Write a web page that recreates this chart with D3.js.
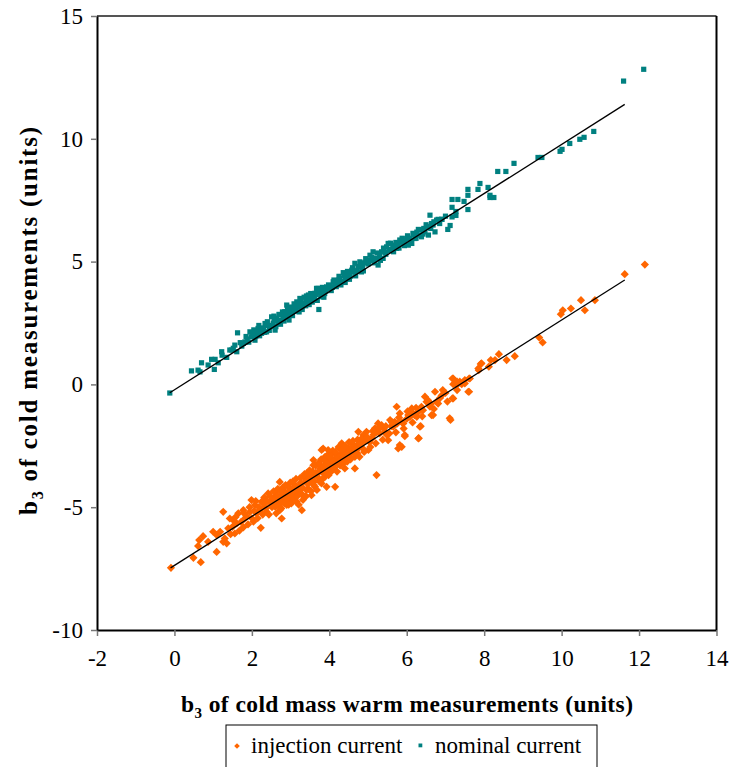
<!DOCTYPE html>
<html>
<head>
<meta charset="utf-8">
<script src="https://cdn.jsdelivr.net/npm/d3@7"></script>
<style>
  html, body { margin: 0; padding: 0; background: #fff; }
  svg { display: block; }
  text { font-family: "Liberation Serif", "Times New Roman", serif; }
</style>
</head>
<body>
<div id="chart"></div>
<script>
// ---------- data ----------
const xTicks = [-2, 0, 2, 4, 6, 8, 10, 12, 14];
const yTicks = [-10, -5, 0, 5, 10, 15];
const seriesNames = ["injection current", "nominal current"];

const injectionCurrent = [
  [-0.09,-7.47],[0.49,-7.06],[0.68,-7.24],[0.61,-6.58],[0.64,-6.34],[0.74,-6.18],[0.87,-6.41],[1.00,-6.00],
  [1.09,-6.82],[1.09,-6.13],[1.18,-6.00],[1.26,-6.41],[1.30,-6.27],[1.35,-6.47],[1.26,-5.19],[1.39,-5.86],
  [1.43,-5.46],[1.52,-5.53],[1.56,-6.07],[1.61,-5.66],[1.65,-5.25],[1.78,-5.12],[1.78,-5.82],[1.82,-5.46],
  [1.86,-5.36],[1.95,-5.19],[1.99,-4.71],[2.04,-5.59],[2.08,-4.91],[2.12,-5.25],[2.21,-5.12],[2.23,-5.84],
  [2.25,-4.78],[2.34,-4.98],[2.38,-5.19],[2.42,-4.44],[2.51,-4.71],[2.60,-4.98],[2.64,-4.51],[2.68,-4.85],
  [2.72,-3.97],[2.72,-5.12],[2.77,-5.46],[2.81,-4.65],[2.85,-4.37],[2.90,-4.91],[2.94,-4.17],[2.98,-4.71],
  [3.03,-4.51],[3.07,-4.03],[3.11,-4.30],[3.16,-4.78],[3.20,-4.44],[3.24,-4.10],[3.29,-5.12],[3.33,-3.76],
  [3.35,-4.58],[3.41,-4.30],[3.50,-3.97],[3.54,-4.51],[3.59,-3.29],[3.63,-4.17],[3.67,-3.69],[3.76,-3.42],
  [3.80,-4.03],[3.84,-2.61],[3.89,-3.76],[3.93,-4.17],[3.97,-3.09],[4.02,-3.49],[4.06,-2.81],[4.10,-3.29],
  [2.30,-4.85],[2.46,-4.80],[2.55,-4.90],[2.58,-4.62],[2.62,-4.72],[2.66,-4.55],[2.70,-4.68],[2.75,-4.80],
  [2.78,-4.50],[2.83,-4.45],[2.86,-4.60],[2.88,-4.75],[2.92,-4.40],[2.96,-4.55],[3.00,-4.35],[3.02,-4.62],
  [3.05,-4.25],[3.09,-4.45],[3.13,-4.15],[3.15,-4.35],[3.18,-4.20],[3.22,-4.30],[3.26,-4.00],[3.31,-4.20],
  [3.38,-3.95],[3.44,-4.05],[3.47,-3.80],[3.52,-3.88],[3.56,-3.70],[3.61,-3.95],[3.65,-3.60],[3.70,-3.78],
  [3.74,-3.55],[3.78,-3.30],[3.82,-3.58],[3.86,-3.40],[3.91,-3.25],[3.95,-3.50],[4.00,-3.20],[4.04,-3.35],
  [4.08,-3.05],[4.13,-3.18],[4.17,-3.00],[4.22,-3.25],[4.25,-2.90],[4.30,-3.10],[4.34,-2.80],[4.38,-2.95],
  [4.43,-2.70],[4.48,-2.95],[4.50,-2.60],[4.56,-2.80],[4.60,-2.55],[4.64,-2.75],[4.70,-2.50],[4.72,-2.80],
  [4.82,-2.45],[4.86,-2.60],[4.92,-2.30],[5.04,-2.35],[5.10,-2.20],[5.14,-2.05],[5.30,-2.00],[5.40,-1.80],
  [5.48,-2.05],[5.60,-1.70],[5.75,-1.60],[5.88,-1.55],[6.00,-1.40],[6.20,-1.25],[6.42,-1.05],[6.62,-0.80],
  [6.86,-0.55],[7.00,-0.35],
  [3.59,-3.08],[3.67,-3.62],[3.80,-2.67],[3.89,-2.95],[3.93,-3.35],[3.97,-2.67],[4.06,-3.08],[4.15,-4.17],
  [4.19,-2.88],[4.27,-2.61],[4.32,-2.40],[4.36,-3.08],[4.40,-3.42],[4.45,-2.81],[4.53,-2.74],[4.58,-2.40],
  [4.66,-2.95],[4.66,-3.42],[4.75,-2.61],[4.79,-2.34],[4.75,-1.93],[4.88,-2.06],[4.96,-1.93],[5.01,-2.67],
  [5.18,-1.79],[5.22,-1.93],[5.26,-1.59],[5.22,-3.69],[5.35,-1.66],[5.44,-1.93],[5.52,-2.27],[5.57,-1.45],
  [5.65,-1.72],[5.69,-1.52],[5.74,-0.91],[5.78,-2.61],[5.82,-2.47],[5.82,-1.18],[5.91,-1.59],[5.95,-2.06],
  [6.04,-1.25],[6.13,-1.12],[6.26,-1.32],[6.30,-2.20],[6.34,-1.72],[6.38,-0.91],[6.47,-0.50],[6.51,-0.71],
  [6.60,-0.91],[6.68,-1.25],[6.73,-0.30],[6.77,-0.71],[7.11,-1.38],[7.20,0.24],[7.20,-0.57],[7.29,-0.03],
  [7.37,0.11],[7.50,0.18],[7.59,-0.30],[7.63,0.24],[7.85,0.65],[7.93,0.86],
  [5.87,-2.54],[5.95,-2.11],[6.31,-2.19],[6.36,-1.70],[6.08,-1.32],[6.13,-0.98],[6.30,-1.12],[6.56,-0.71],
  [6.64,-1.25],[6.81,-0.78],[6.93,-0.23],[7.13,-1.45],[7.18,0.24],[7.18,-0.57],[7.20,0.01],[7.30,0.11],
  [7.30,-0.23],[7.42,0.01],[7.50,0.04],[7.61,0.24],[7.61,-0.30],[7.86,0.58],[7.91,0.83],[8.12,0.72],
  [8.17,0.99],[8.28,0.99],[8.38,1.23],[8.58,0.99],[8.79,1.15],[9.42,1.91],[9.51,1.71],[9.98,2.86],
  [10.03,3.02],[10.24,3.09],[10.50,3.43],[10.60,3.02],[10.86,3.43],[11.63,4.49],[12.15,4.88],
  [1.45,-6.10],[1.50,-5.80],[1.58,-5.40],[1.68,-5.95],[1.72,-5.60],[1.80,-5.25],[1.90,-5.70],[1.94,-5.00],
  [2.00,-5.45],[2.06,-5.15],[2.10,-4.75],[2.15,-5.45],[2.18,-5.00],[2.28,-5.30],[2.32,-4.60],[2.36,-5.05],
  [2.40,-4.75],[2.44,-5.30],[2.48,-4.55],[2.52,-5.00],[2.56,-4.35],[2.60,-4.70],[2.63,-5.25],[2.67,-4.25],
  [2.70,-4.95],[2.74,-4.35],[2.76,-5.05],[2.80,-4.20],[2.84,-4.85],[2.87,-4.10],[2.91,-4.65],[2.95,-4.90],
  [2.99,-4.00],[3.02,-4.85],[3.06,-3.95],[3.10,-4.65],[3.14,-3.85],[3.17,-4.55],[3.21,-4.90],[3.25,-3.80],
  [3.28,-4.45],[3.32,-4.70],[3.36,-3.65],[3.40,-4.55],[3.43,-3.60],[3.46,-4.25],[3.49,-3.50],[3.53,-4.35],
  [3.57,-3.55],[3.60,-4.10],[3.64,-3.30],[3.68,-4.30],[3.72,-3.20],[3.75,-3.95],[3.79,-3.05],[3.83,-3.85],
  [3.87,-3.10],[3.90,-3.60],[3.94,-2.90],[3.98,-3.70],[4.01,-2.95],[4.05,-3.55],[4.09,-2.70],[4.12,-3.40],
  [4.16,-2.75],[4.20,-3.55],[4.24,-2.55],[4.28,-3.30],[4.33,-2.65],[4.37,-3.20],[4.41,-2.50],[4.46,-3.15],
  [4.51,-2.35],[4.55,-3.05],[4.61,-2.30],[4.67,-2.65],[4.73,-2.25],[4.78,-2.95],[4.84,-2.20],[4.90,-2.75],
  [4.98,-2.15],[5.06,-2.55],[5.12,-1.90],[5.20,-2.40],[5.28,-1.80],[5.38,-2.25],[5.46,-1.70],[5.55,-2.00],
  [5.62,-1.55],[5.72,-1.95],[5.80,-1.35],[5.92,-1.80],[6.02,-1.10],[6.15,-1.55],[6.24,-0.95],[6.40,-1.30],
  [6.55,-0.65],[6.70,-1.00],[6.90,-0.45],[7.05,-0.70]
];

const nominalCurrent = [
  [-0.12,-0.35],[0.44,0.55],[0.61,0.58],[0.66,0.51],[0.87,0.79],[0.70,0.88],[1.03,0.61],[0.96,1.02],
  [1.05,1.02],[1.13,0.88],[1.22,1.33],[1.23,1.19],[1.35,1.10],[1.43,1.40],[1.52,1.47],[1.61,1.33],
  [1.63,2.10],[1.78,1.67],[1.82,1.73],[1.74,1.56],[1.95,2.14],[1.99,1.94],[2.08,1.80],[2.16,2.28],
  [2.25,2.08],[2.34,2.48],[2.38,2.14],[2.47,2.35],[2.51,2.75],[2.60,2.21],[2.68,2.48],[2.77,2.62],
  [2.85,2.96],[2.90,3.23],[2.94,2.75],[3.03,2.89],[3.11,3.09],[3.16,3.36],[3.24,3.50],[3.29,3.16],
  [3.37,3.30],[3.46,3.64],[3.54,3.43],[3.63,3.71],[3.71,3.91],[3.73,3.05],[3.80,3.57],
  [1.88,1.85],[2.02,2.05],[2.12,2.15],[2.20,1.98],[2.30,2.30],[2.42,2.40],[2.55,2.50],[2.58,2.62],
  [2.64,2.70],[2.72,2.55],[2.80,2.82],[2.82,2.70],[2.88,2.90],[2.98,3.00],[3.00,2.85],[3.06,3.10],
  [3.14,2.98],[3.20,3.20],[3.26,3.35],[3.32,3.25],[3.40,3.45],[3.44,3.38],[3.50,3.55],[3.58,3.60],
  [3.60,3.50],[3.66,3.66],[3.76,3.75],[3.84,3.82],[3.88,3.70],[3.96,3.90],[4.02,4.00],[4.08,3.95],
  [4.14,4.12],[4.20,4.10],[4.24,4.25],[4.32,4.20],[4.38,4.42],[4.42,4.30],[4.50,4.50],[4.54,4.40],
  [4.62,4.60],[4.70,4.62],[4.74,4.80],[4.86,4.76],[4.90,4.95],[5.00,4.90],[5.08,5.05],[5.18,5.10],
  [5.30,5.22],[5.44,5.38],[5.56,5.50],[5.64,5.60],[5.78,5.72],[5.86,5.80],[5.96,5.88],[6.08,5.95],
  [6.18,6.10],[6.26,6.20],[6.44,6.35],[6.52,6.40],[6.64,6.55],
  [3.41,3.60],[3.67,3.91],[3.93,3.97],[4.10,4.18],[4.27,4.32],[4.45,4.38],[4.58,4.65],[4.66,4.93],
  [4.79,4.99],[4.83,4.58],[4.96,5.06],[5.05,5.26],[5.13,5.40],[5.22,5.13],[5.26,4.86],[5.35,5.40],
  [5.39,5.13],[5.48,5.60],[5.52,5.74],[5.61,5.47],[5.69,5.67],[5.74,5.54],[5.82,5.88],[5.91,5.74],
  [6.00,5.94],[6.04,5.67],[6.13,5.74],[6.21,5.94],[6.30,6.08],[6.30,6.31],[6.38,6.01],[6.47,6.21],
  [6.56,6.08],[6.60,6.89],[6.56,6.42],[6.68,6.49],[6.73,6.21],[6.77,6.69],[6.81,6.72],[6.90,6.72],
  [6.91,6.72],[7.06,6.31],[7.12,6.47],[7.17,7.53],[7.17,7.21],[7.17,6.82],[7.27,7.04],[7.27,6.88],
  [7.32,7.53],[7.48,7.45],[7.58,7.94],[7.58,7.70],[7.58,7.12],[7.84,7.94],[7.89,8.18],[8.10,8.02],
  [8.15,7.70],[8.15,7.61],[8.25,7.61],[8.35,8.67],[8.56,8.67],[8.77,9.00],[9.39,9.24],[9.49,9.24],
  [9.96,9.49],[10.01,9.57],[10.21,9.81],[10.47,9.98],[10.58,10.06],[10.83,10.30],[11.60,12.35],[12.12,12.83],
  [1.48,1.40],[1.56,1.60],[1.70,1.70],[1.85,1.95],[1.92,1.72],[2.05,2.22],[2.10,1.95],[2.18,2.40],
  [2.27,2.22],[2.33,2.12],[2.40,2.55],[2.45,2.20],[2.53,2.40],[2.57,2.78],[2.62,2.35],[2.66,2.60],
  [2.70,2.85],[2.74,2.45],[2.79,2.95],[2.83,2.58],[2.87,2.80],[2.92,3.05],[2.96,2.62],[3.01,3.15],
  [3.05,2.80],[3.09,3.28],[3.13,3.02],[3.18,3.15],[3.22,2.95],[3.27,3.42],[3.30,3.05],[3.35,3.55],
  [3.39,3.20],[3.43,3.48],[3.48,3.25],[3.52,3.70],[3.56,3.35],[3.62,3.55],[3.69,3.42],[3.75,3.85],
  [3.78,3.60],[3.82,3.95],[3.86,3.55],[3.91,3.80],[3.98,4.05],[4.05,3.82],[4.12,4.25],[4.18,3.98],
  [4.25,4.40],[4.30,4.05],[4.36,4.55],[4.41,4.15],[4.47,4.60],[4.52,4.28],[4.60,4.75],[4.68,4.42],
  [4.72,4.62],[4.80,4.80],[4.88,4.62],[4.94,5.12],[5.02,4.95],[5.10,5.18],[5.16,4.95],[5.24,5.35],
  [5.32,5.05],[5.40,5.55],[5.46,5.30],[5.54,5.45],[5.58,5.75],[5.66,5.40],[5.72,5.78],[5.80,5.55],
  [5.88,5.95],[5.94,5.65],[6.02,6.05],[6.10,5.85],[6.16,6.15],[6.24,5.95],[6.35,6.30],[6.42,6.12],
  [6.50,6.50],[6.62,6.35],[6.70,6.62],[6.85,6.55],[7.00,6.85]
];

// linear fit lines (end points)
const fitInjection = [[-0.10, -7.47], [11.63, 4.25]];
const fitNominal = [[-0.12, -0.34], [11.63, 11.40]];

// ---------- drawing ----------
const W = 730, H = 767;
const colors = { injection: "#FF6600", nominal: "#008080" };
const serif = "'Liberation Serif', 'Times New Roman', serif";

const svg = d3.select("#chart").append("svg")
  .attr("width", W).attr("height", H);

const x = d3.scaleLinear().domain([-2, 14]).range([97, 716.5]);
const y = d3.scaleLinear().domain([-10, 15]).range([630, 16]);

// plot frame (top/right)
svg.append("line").attr("x1", x(-2)).attr("x2", x(14)).attr("y1", y(15)).attr("y2", y(15))
  .attr("stroke", "#555").attr("stroke-width", 2);
svg.append("line").attr("x1", x(14)).attr("x2", x(14)).attr("y1", y(15)).attr("y2", y(-10))
  .attr("stroke", "#000").attr("stroke-width", 2);

// axes
const fontTick = 23;
const gx = svg.append("g").attr("transform", `translate(0,${y(-10)})`)
  .call(d3.axisBottom(x).tickValues(xTicks).tickSize(6).tickSizeOuter(0).tickPadding(14)
        .tickFormat(d => d < 0 ? "-" + Math.abs(d) : String(d)));
const gy = svg.append("g").attr("transform", `translate(${x(-2)},0)`)
  .call(d3.axisLeft(y).tickValues(yTicks).tickSize(6).tickSizeOuter(0).tickPadding(8)
        .tickFormat(d => d < 0 ? "-" + Math.abs(d) : String(d)));
[gx, gy].forEach(g => {
  g.attr("font-family", serif);
  g.select(".domain").attr("stroke", "#000").attr("stroke-width", 2);
  g.selectAll(".tick line").attr("stroke", "#777").attr("stroke-width", 1.5);
  g.selectAll(".tick text").style("font-size", fontTick + "px")
    .style("font-family", serif).attr("fill", "#000");
});

// markers
function diamond(r) { return `M0,${-r}L${r},0L0,${r}L${-r},0Z`; }
const sq = 5.2;

svg.append("g").selectAll("path").data(injectionCurrent).join("path")
  .attr("d", diamond(4.1))
  .attr("transform", d => `translate(${x(d[0])},${y(d[1])})`)
  .attr("fill", colors.injection);

svg.append("g").selectAll("rect").data(nominalCurrent).join("rect")
  .attr("x", d => x(d[0]) - sq / 2).attr("y", d => y(d[1]) - sq / 2)
  .attr("width", sq).attr("height", sq)
  .attr("fill", colors.nominal);

// fit lines
const line = d3.line().x(d => x(d[0])).y(d => y(d[1]));
[fitInjection, fitNominal].forEach(f => {
  svg.append("path").attr("d", line(f)).attr("fill", "none")
    .attr("stroke", "#000").attr("stroke-width", 1.3);
});

// axis titles
const xt = svg.append("text")
  .attr("x", 407).attr("y", 712).attr("text-anchor", "middle")
  .style("font-family", serif).style("font-size", "23.5px").attr("font-weight", "bold")
  .attr("textLength", 452).attr("lengthAdjust", "spacing");
xt.append("tspan").text("b");
xt.append("tspan").style("font-size", "15px").attr("dy", 6).text("3");
xt.append("tspan").attr("dy", -6).text(" of cold mass warm measurements (units)");

const yt = svg.append("text")
  .attr("transform", `translate(37,321) rotate(-90)`).attr("text-anchor", "middle")
  .style("font-family", serif).style("font-size", "25px").attr("font-weight", "bold")
  .attr("textLength", 388).attr("lengthAdjust", "spacing");
yt.append("tspan").text("b");
yt.append("tspan").style("font-size", "16px").attr("dy", 6).text("3");
yt.append("tspan").attr("dy", -6).text(" of cold measurements (units)");

// legend
const lg = svg.append("g");
lg.append("rect").attr("x", 226).attr("y", 725).attr("width", 371).attr("height", 70)
  .attr("fill", "#fff").attr("stroke", "#000").attr("stroke-width", 1);
lg.append("path").attr("d", diamond(2.8)).attr("transform", "translate(237,746)")
  .attr("fill", colors.injection);
lg.append("text").attr("x", 251).attr("y", 753).style("font-family", serif).style("font-size", "23px")
  .text(seriesNames[0]);
lg.append("rect").attr("x", 418.5).attr("y", 743.5).attr("width", 3.8).attr("height", 3.8)
  .attr("fill", colors.nominal);
lg.append("text").attr("x", 435).attr("y", 753).style("font-family", serif).style("font-size", "23px")
  .text(seriesNames[1]);
</script>
</body>
</html>
